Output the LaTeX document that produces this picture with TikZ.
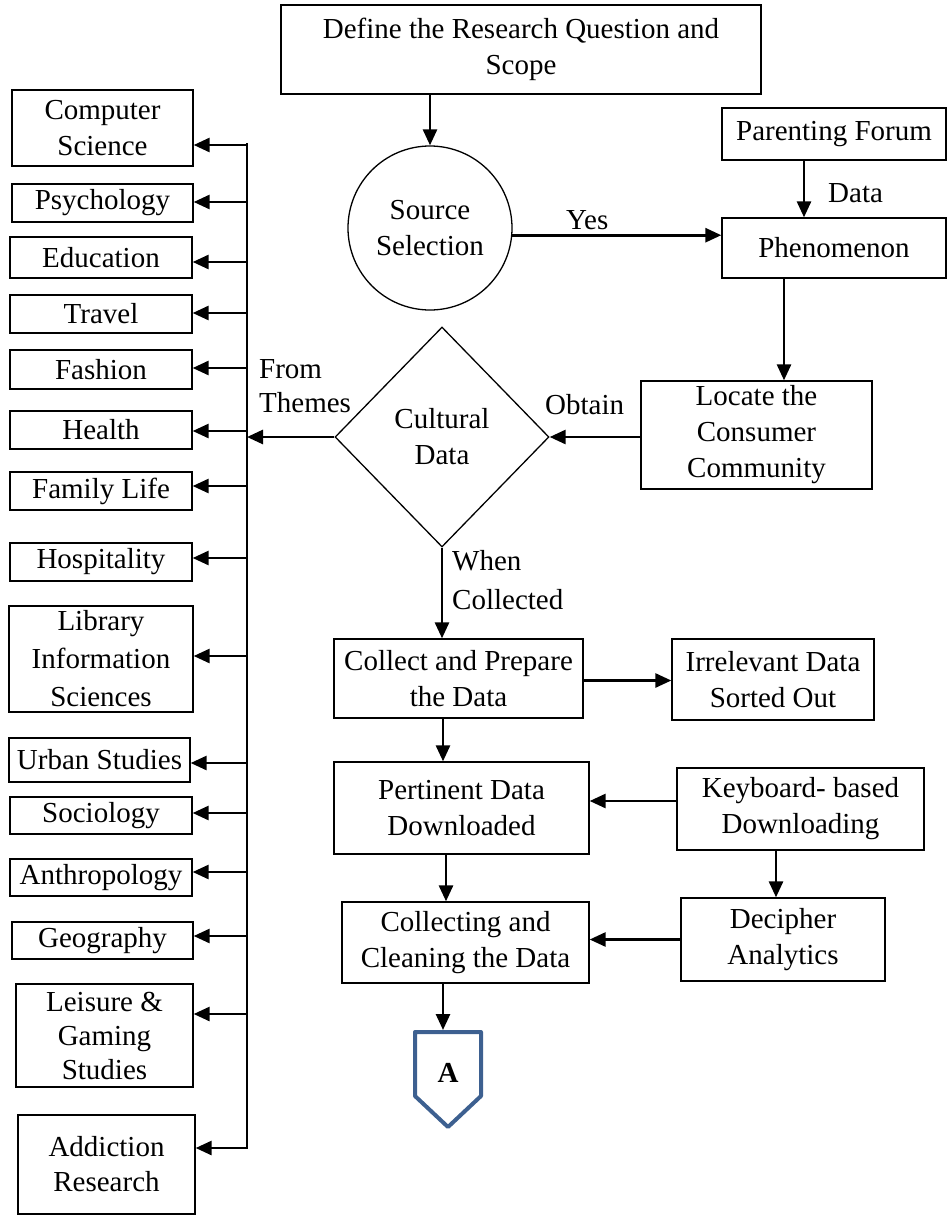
\documentclass[tikz,border=0pt]{standalone}
\usepackage{fontspec}
\setmainfont{Liberation Serif}
\usetikzlibrary{arrows.meta,shapes.geometric}
\definecolor{connblue}{HTML}{3D6090}
\begin{document}
\begin{tikzpicture}[x=1pt,y=-1pt,
  every node/.style={font=\fontsize{29}{36}\selectfont},
  box/.style={draw,line width=1.3pt,inner sep=0pt,align=center},
  arr/.style={line width=2.7pt,-{Triangle[length=16pt,width=14pt]}},
  lbl/.style={anchor=base west,inner sep=0pt}]
\useasboundingbox (0,0) rectangle (947,1215);

% main flow, top
\node[box,minimum width=480pt,minimum height=89pt] (top) at (521,49.5) {Define the Research Question and\\Scope};
\node[draw,circle,line width=1.3pt,inner sep=0pt,minimum size=164pt,align=center] (src) at (430,228) {Source\\Selection};
\node[box,minimum width=224pt,minimum height=52pt] (forum) at (834,134) {Parenting Forum};
\node[box,minimum width=224pt,minimum height=60pt] (phen) at (834,248) {Phenomenon};
\node[box,minimum width=231pt,minimum height=108pt] (locate) at (756.5,435) {Locate the\\Consumer\\Community};
\node[draw,diamond,line width=1.3pt,inner sep=0pt,minimum width=214pt,minimum height=220pt,align=center] (cd) at (442,437) {Cultural\\Data};

% main flow, lower part
\node[box,minimum width=249pt,minimum height=79pt] (collect) at (458.5,678.5) {Collect and Prepare\\the Data};
\node[box,minimum width=202pt,minimum height=81pt] (irr) at (773,679.5) {Irrelevant Data\\Sorted Out};
\node[box,minimum width=255pt,minimum height=92pt] (pert) at (461.5,808) {Pertinent Data\\Downloaded};
\node[box,minimum width=247pt,minimum height=82pt] (kbd) at (800.5,809) {Keyboard- based\\Downloading};
\node[box,minimum width=204pt,minimum height=83pt] (dec) at (783,939.5) {Decipher\\Analytics};
\node[box,minimum width=247pt,minimum height=81pt] (clean) at (465.5,942.5) {Collecting and\\Cleaning the Data};

% off-page connector
\draw[connblue,line width=4pt,line join=round] (415,1032) -- (481,1032) -- (481,1096) -- (448,1127) -- (415,1096) -- cycle;
\node[inner sep=0pt] (A) at (448,1073) {\textbf{A}};
\coordinate (Atop) at (443,1030);

% theme boxes
\node[box,minimum width=181pt,minimum height=76pt] (t1) at (102.5,128) {Computer\\Science};
\node[box,minimum width=181pt,minimum height=38pt] (t2) at (102.5,203) {Psychology};
\node[box,minimum width=182pt,minimum height=41pt] (t3) at (101,257.5) {Education};
\node[box,minimum width=182pt,minimum height=38pt] (t4) at (101,314) {Travel};
\node[box,minimum width=182pt,minimum height=39pt] (t5) at (101,369.5) {Fashion};
\node[box,minimum width=182pt,minimum height=38pt] (t6) at (101,430) {Health};
\node[box,minimum width=182pt,minimum height=38pt] (t7) at (101,491) {Family Life};
\node[box,minimum width=182pt,minimum height=38pt] (t8) at (101,562) {Hospitality};
\node[box,minimum width=184pt,minimum height=106pt,font=\fontsize{29}{38}\selectfont] (t9) at (101,659) {Library\\Information\\Sciences};
\node[box,minimum width=181pt,minimum height=44pt] (t10) at (99.5,760) {Urban Studies};
\node[box,minimum width=182pt,minimum height=37pt] (t11) at (101,815.5) {Sociology};
\node[box,minimum width=182pt,minimum height=37pt] (t12) at (101,877.5) {Anthropology};
\node[box,minimum width=181pt,minimum height=37pt] (t13) at (102.5,940.5) {Geography};
\node[box,minimum width=177pt,minimum height=103pt,font=\fontsize{29}{34}\selectfont] (t14) at (104.5,1035.5) {Leisure \&\\Gaming\\Studies};
\node[box,minimum width=177pt,minimum height=99pt,font=\fontsize{29}{35}\selectfont] (t15) at (106.5,1164.5) {Addiction\\Research};

% distribution bus
\coordinate (bustop) at (247,143);
\coordinate (busbot) at (247,1149);
\draw[line width=2.6pt] (bustop) -- (busbot);
\foreach \n/\y in {t1/145,t2/202,t3/262,t4/313,t5/368,t6/431,t7/486,t8/558,t9/656,t10/763,t11/813,t12/872,t13/936,t14/1014,t15/1148}{
  \coordinate (b\n) at (247,\y);
  \draw[arr] (b\n) -- (b\n -| \n.east);
}

% connectors of the main flow
\draw[arr] (src.north |- top.south) -- (src.north);
\draw[arr] (src.-5) -- (src.-5 -| phen.west);
\draw[arr] ([xshift=-30pt]forum.south) -- ([xshift=-30pt]phen.north);
\draw[arr] ([xshift=-50pt]phen.south) -- ([xshift=-50pt]phen.south |- locate.north);
\draw[arr] (locate.west |- cd.east) -- (cd.east);
\draw[arr] (cd.west) -- (cd.west -| bustop);
\draw[arr] (cd.south) -- (cd.south |- collect.north);
\draw[arr] ([yshift=-2pt]collect.east) -- ([yshift=-2pt]collect.east -| irr.west);
\draw[arr] ([xshift=-15.5pt]collect.south) -- ([xshift=-15.5pt]collect.south |- pert.north);
\draw[arr] ([yshift=8pt]kbd.west) -- ([yshift=8pt]kbd.west -| pert.east);
\draw[arr] ([xshift=-24.5pt]kbd.south) -- ([xshift=-24.5pt]kbd.south |- dec.north);
\draw[arr] ([xshift=-15.5pt]pert.south) -- ([xshift=-15.5pt]pert.south |- clean.north);
\draw[arr] (dec.west) -- (dec.west -| clean.east);
\draw[arr] ([xshift=-22.5pt]clean.south) -- (Atop);

% connector labels
\node[lbl] (lyes) at (566,229) {Yes};
\node[lbl] (ldata) at (828,202) {Data};
\node[lbl] (lobtain) at (545,414) {Obtain};
\node[lbl] (lfrom) at (259,378) {From};
\node[lbl] (lthemes) at (259,412) {Themes};
\node[lbl] (lwhen) at (452,570) {When};
\node[lbl] (lcoll) at (452,609) {Collected};
\end{tikzpicture}
\end{document}
